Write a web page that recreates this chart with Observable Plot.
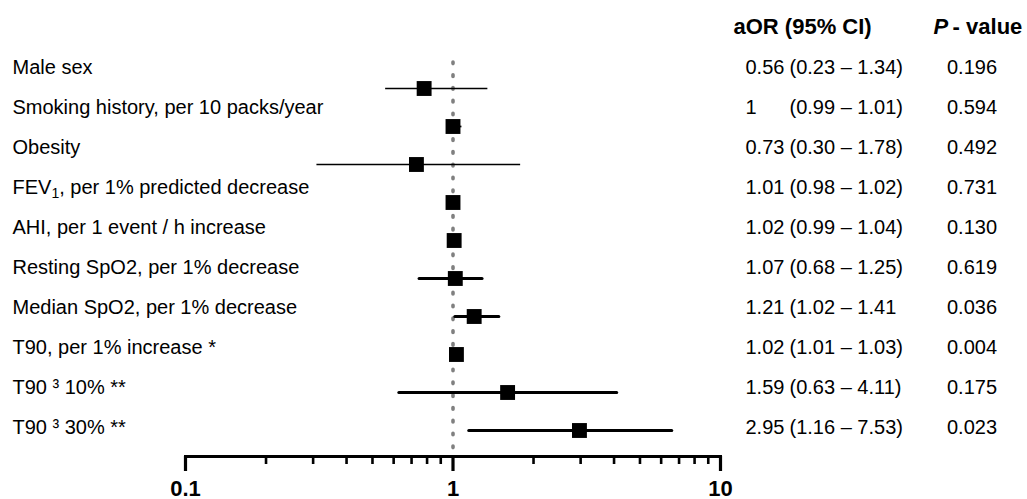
<!DOCTYPE html>
<html>
<head>
<meta charset="utf-8">
<script src="https://cdn.jsdelivr.net/npm/d3@7"></script>
<script src="https://cdn.jsdelivr.net/npm/@observablehq/plot@0.6"></script>
<style>
  html, body { margin: 0; padding: 0; background: #fff; }
  #wrap { position: relative; width: 1027px; height: 499px; overflow: hidden; }
  #wrap > svg { position: absolute; left: 0; top: 0; }
</style>
</head>
<body>
<div id="wrap"></div>
<script>
// ---- data ----
const labels = [
  "Male sex",
  "Smoking history, per 10 packs/year",
  "Obesity",
  "FEV1, per 1% predicted decrease",
  "AHI, per 1 event / h increase",
  "Resting SpO2, per 1% decrease",
  "Median SpO2, per 1% decrease",
  "T90, per 1% increase *",
  "T90 \u00B3 10% **",
  "T90 \u00B3 30% **"
];
const plotOR = [0.78, 1.00, 0.73, 1.00, 1.01, 1.02, 1.20, 1.03, 1.60, 2.97];
const plotLo = [0.56, 0.98, 0.31, 0.98, 0.99, 0.75, 1.02, 1.01, 0.63, 1.15];
const plotHi = [1.35, 1.08, 1.79, 1.02, 1.04, 1.29, 1.49, 1.03, 4.11, 6.60];
// table columns
const aorText = ["0.56", "1", "0.73", "1.01", "1.02", "1.07", "1.21", "1.02", "1.59", "2.95"];
const ciText = ["(0.23 \u2013 1.34)", "(0.99 \u2013 1.01)", "(0.30 \u2013 1.78)", "(0.98 \u2013 1.02)",
  "(0.99 \u2013 1.04)", "(0.68 \u2013 1.25)", "(1.02 \u2013 1.41", "(1.01 \u2013 1.03)",
  "(0.63 \u2013 4.11)", "(1.16 \u2013 7.53)"];
const pText = ["0.196", "0.594", "0.492", "0.731", "0.130", "0.619", "0.036", "0.004", "0.175", "0.023"];
const majorTicks = [0.1, 1, 10];
const minorTicks = [0.2, 0.3, 0.4, 0.5, 0.6, 0.7, 0.8, 0.9, 2, 3, 4, 5, 6, 7, 8, 9];
const headerCI = "aOR (95% CI)";
const headerP = "P";
const headerP2 = " - value";

const rows = labels.map((label, i) => ({label, i, or: plotOR[i], lo: plotLo[i], hi: plotHi[i],
  aor: aorText[i], ci: ciText[i], p: pText[i]}));

const FONT = "'Liberation Sans', Arial, Helvetica, sans-serif";

// ---- forest plot ----
const main = Plot.plot({
  width: 1027, height: 499,
  marginLeft: 185, marginRight: 307, marginTop: 62, marginBottom: 43,
  x: {type: "log", domain: [0.1, 10]},
  y: {type: "point", domain: labels, range: [87.3, 431.7], padding: 0, axis: null},
  style: {fontFamily: FONT, background: "transparent", color: "black"},
  marks: [
    Plot.ruleX([1], {stroke: "#808080", strokeWidth: 3.6, strokeDasharray: "1.6 11.2",
      strokeLinecap: "round", insetBottom: 8}),
    Plot.ruleY(rows.filter(d => d.i < 3), {x1: "lo", x2: "hi", y: "label", stroke: "black", strokeWidth: 1.7}),
    Plot.ruleY(rows.filter(d => d.i >= 3), {x1: "lo", x2: "hi", y: "label", stroke: "black", strokeWidth: 3,
      strokeLinecap: "round"}),
    Plot.dot(rows, {x: "or", y: "label", symbol: "square", r: 8.4, fill: "black", stroke: null}),
    Plot.frame({anchor: "bottom", stroke: "black", strokeWidth: 3}),
    Plot.axisX(minorTicks, {tickSize: 8, strokeWidth: 2.6, tickFormat: () => ""}),
    Plot.axisX(majorTicks, {tickSize: 15, strokeWidth: 3.2, tickPadding: 9, fontSize: 22,
      fontWeight: "bold", fill: "black", tickFormat: d => String(d)})
  ]
});

// ---- text table overlay ----
const table = Plot.plot({
  width: 1027, height: 499,
  margin: 0,
  y: {type: "point", domain: labels, range: [63, 431], padding: 0, axis: null},
  style: {fontFamily: FONT, background: "transparent", color: "black"},
  marks: [
    Plot.text(rows, {y: "label", text: "label", frameAnchor: "left", dx: 12, textAnchor: "start",
      fontSize: 20, fill: "black"}),
    Plot.text(rows, {y: "label", text: "aor", frameAnchor: "left", dx: 745, textAnchor: "start",
      fontSize: 20, fill: "black"}),
    Plot.text(rows, {y: "label", text: "ci", frameAnchor: "left", dx: 789, textAnchor: "start",
      fontSize: 20, fill: "black"}),
    Plot.text(rows, {y: "label", text: "p", frameAnchor: "left", dx: 971.5, textAnchor: "middle",
      fontSize: 20, fill: "black"}),
    Plot.text([headerCI], {text: d => d, frameAnchor: "top-left", dx: 733, dy: 26, lineAnchor: "middle",
      textAnchor: "start", fontSize: 22, fontWeight: "bold", fill: "black"}),
    Plot.text([headerP], {text: d => d, frameAnchor: "top-left", dx: 933, dy: 26, lineAnchor: "middle",
      textAnchor: "start", fontSize: 22, fontWeight: "bold", fontStyle: "italic", fill: "black"}),
    Plot.text([headerP2], {text: d => d, frameAnchor: "top-left", dx: 946, dy: 26, lineAnchor: "middle",
      textAnchor: "start", fontSize: 22, fontWeight: "bold", fill: "black"})
  ]
});

// FEV1 subscript
table.querySelectorAll("text").forEach(t => {
  const s = t.textContent;
  if (s.startsWith("FEV1")) {
    t.textContent = "";
    const ns = "http://www.w3.org/2000/svg";
    const a = document.createElementNS(ns, "tspan"); a.textContent = "FEV";
    const b = document.createElementNS(ns, "tspan"); b.textContent = "1";
    b.setAttribute("font-size", "14"); b.setAttribute("dy", "4");
    const c = document.createElementNS(ns, "tspan"); c.textContent = s.slice(4);
    c.setAttribute("dy", "-4");
    t.append(a, b, c);
  }
});

const wrap = document.getElementById("wrap");
wrap.append(main, table);
</script>
</body>
</html>
